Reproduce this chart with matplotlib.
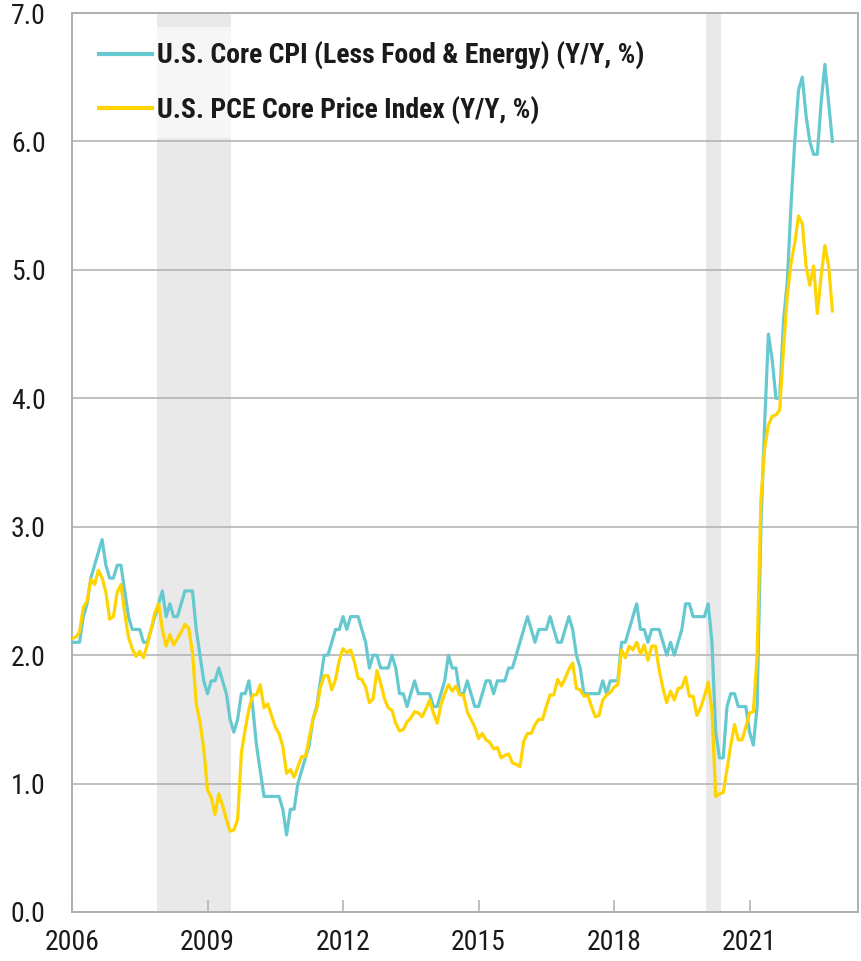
import matplotlib
matplotlib.use("Agg")
import matplotlib.pyplot as plt
import numpy as np

# ---------------- data (monthly, Jan 2006 .. Nov 2022) ----------------
start_year = 2006
cpi_core = [
    2.1, 2.1, 2.1, 2.3, 2.4, 2.6, 2.7, 2.8, 2.9, 2.7, 2.6, 2.6,   # 2006
    2.7, 2.7, 2.5, 2.3, 2.2, 2.2, 2.2, 2.1, 2.1, 2.2, 2.3, 2.4,   # 2007
    2.5, 2.3, 2.4, 2.3, 2.3, 2.4, 2.5, 2.5, 2.5, 2.2, 2.0, 1.8,   # 2008
    1.7, 1.8, 1.8, 1.9, 1.8, 1.7, 1.5, 1.4, 1.5, 1.7, 1.7, 1.8,   # 2009
    1.6, 1.3, 1.1, 0.9, 0.9, 0.9, 0.9, 0.9, 0.8, 0.6, 0.8, 0.8,   # 2010
    1.0, 1.1, 1.2, 1.3, 1.5, 1.6, 1.8, 2.0, 2.0, 2.1, 2.2, 2.2,   # 2011
    2.3, 2.2, 2.3, 2.3, 2.3, 2.2, 2.1, 1.9, 2.0, 2.0, 1.9, 1.9,   # 2012
    1.9, 2.0, 1.9, 1.7, 1.7, 1.6, 1.7, 1.8, 1.7, 1.7, 1.7, 1.7,   # 2013
    1.6, 1.6, 1.7, 1.8, 2.0, 1.9, 1.9, 1.7, 1.7, 1.8, 1.7, 1.6,   # 2014
    1.6, 1.7, 1.8, 1.8, 1.7, 1.8, 1.8, 1.8, 1.9, 1.9, 2.0, 2.1,   # 2015
    2.2, 2.3, 2.2, 2.1, 2.2, 2.2, 2.2, 2.3, 2.2, 2.1, 2.1, 2.2,   # 2016
    2.3, 2.2, 2.0, 1.9, 1.7, 1.7, 1.7, 1.7, 1.7, 1.8, 1.7, 1.8,   # 2017
    1.8, 1.8, 2.1, 2.1, 2.2, 2.3, 2.4, 2.2, 2.2, 2.1, 2.2, 2.2,   # 2018
    2.2, 2.1, 2.0, 2.1, 2.0, 2.1, 2.2, 2.4, 2.4, 2.3, 2.3, 2.3,   # 2019
    2.3, 2.4, 2.1, 1.4, 1.2, 1.2, 1.6, 1.7, 1.7, 1.6, 1.6, 1.6,   # 2020
    1.4, 1.3, 1.6, 3.0, 3.8, 4.5, 4.3, 4.0, 4.0, 4.6, 4.9, 5.5,   # 2021
    6.0, 6.4, 6.5, 6.2, 6.0, 5.9, 5.9, 6.3, 6.6, 6.3, 6.0,        # 2022
]
pce_core = [
    2.13, 2.14, 2.18, 2.37, 2.42, 2.59, 2.55, 2.66, 2.60, 2.49, 2.28, 2.30,  # 2006
    2.49, 2.55, 2.33, 2.14, 2.05, 1.99, 2.03, 1.98, 2.08, 2.20, 2.33, 2.40,  # 2007
    2.20, 2.07, 2.16, 2.08, 2.13, 2.18, 2.24, 2.21, 2.02, 1.62, 1.48, 1.27,  # 2008
    0.95, 0.89, 0.76, 0.92, 0.83, 0.72, 0.63, 0.64, 0.72, 1.24, 1.42, 1.58,  # 2009
    1.69, 1.69, 1.77, 1.59, 1.62, 1.53, 1.44, 1.39, 1.29, 1.08, 1.11, 1.05,  # 2010
    1.13, 1.21, 1.21, 1.35, 1.50, 1.58, 1.75, 1.84, 1.84, 1.73, 1.81, 1.96,  # 2011
    2.05, 2.02, 2.04, 1.95, 1.82, 1.81, 1.75, 1.63, 1.66, 1.88, 1.78, 1.66,  # 2012
    1.59, 1.57, 1.47, 1.41, 1.42, 1.48, 1.51, 1.56, 1.55, 1.52, 1.58, 1.65,  # 2013
    1.55, 1.47, 1.61, 1.70, 1.77, 1.72, 1.76, 1.69, 1.69, 1.56, 1.50, 1.44,  # 2014
    1.35, 1.39, 1.34, 1.32, 1.27, 1.28, 1.20, 1.22, 1.23, 1.16, 1.15, 1.13,  # 2015
    1.33, 1.39, 1.39, 1.46, 1.50, 1.50, 1.60, 1.69, 1.69, 1.81, 1.76, 1.82,  # 2016
    1.89, 1.94, 1.74, 1.73, 1.68, 1.69, 1.60, 1.52, 1.53, 1.65, 1.69, 1.71,  # 2017
    1.75, 1.77, 2.04, 1.98, 2.07, 2.04, 2.10, 2.01, 2.08, 1.96, 2.07, 2.07,  # 2018
    1.88, 1.74, 1.63, 1.72, 1.65, 1.74, 1.75, 1.83, 1.68, 1.68, 1.53, 1.59,  # 2019
    1.68, 1.79, 1.57, 0.90, 0.92, 0.93, 1.11, 1.30, 1.46, 1.34, 1.34, 1.44,  # 2020
    1.55, 1.56, 2.00, 3.20, 3.61, 3.79, 3.86, 3.87, 3.91, 4.38, 4.79, 5.05,  # 2021
    5.21, 5.42, 5.36, 5.03, 4.88, 5.03, 4.66, 4.95, 5.19, 5.03, 4.68,        # 2022
]
recession_start = [2007.875, 2020.04]
recession_end = [2009.53, 2020.37]
labels = ["U.S. Core CPI (Less Food & Energy) (Y/Y, %)",
          "U.S. PCE Core Price Index (Y/Y, %)"]
x_ticks = [2006, 2009, 2012, 2015, 2018, 2021]
y_ticks = [0, 1, 2, 3, 4, 5, 6, 7]

# ---------------- style ----------------
plt.rcParams["font.family"] = ["Roboto Condensed", "Roboto", "DejaVu Sans"]

CPI_COLOR = "#66C9D0"
PCE_COLOR = "#FFD400"
GRID = "#AFAFAF"
TEXT = "#1A1A1A"

dates = start_year + np.arange(len(cpi_core)) / 12.0

fig = plt.figure(figsize=(8.61, 9.61), dpi=100)
ax = fig.add_axes([72 / 861, 1 - 912 / 961, 786 / 861, 899 / 961])

for s, e in zip(recession_start, recession_end):
    ax.axvspan(s, e, color="#E9E9E9", lw=0, zorder=0)

ax.plot(dates, cpi_core, color=CPI_COLOR, lw=2.3, label=labels[0], zorder=3)
ax.plot(dates, pce_core, color=PCE_COLOR, lw=2.3, label=labels[1], zorder=4)

ax.set_xlim(2006, 2023.4)
ax.set_ylim(0, 7)
ax.set_yticks(y_ticks)
ax.set_yticklabels([f"{v:.1f}" for v in y_ticks])
ax.set_xticks(x_ticks)
ax.set_xticklabels([str(v) for v in x_ticks])

ax.yaxis.grid(True, color=GRID, lw=1.1, zorder=1)
ax.set_axisbelow(True)
for sp in ax.spines.values():
    sp.set_color(GRID)
    sp.set_linewidth(1.4)

ax.tick_params(axis="y", length=0, pad=19, labelsize=20, labelcolor=TEXT)
ax.tick_params(axis="x", direction="in", length=9, width=1.1, color=GRID,
               pad=12, labelsize=20, labelcolor=TEXT)

leg = ax.legend(loc="upper left", bbox_to_anchor=(0.0165, 0.984),
                borderaxespad=0, frameon=True, fancybox=False,
                framealpha=0.6, edgecolor="none", facecolor="white",
                handlelength=1.9, handletextpad=0.18, labelspacing=0.95,
                borderpad=0.5, prop={"size": 20, "weight": "bold"})
for line in leg.get_lines():
    line.set_linewidth(3.0)
for t in leg.get_texts():
    t.set_color(TEXT)

fig.savefig("out.png", dpi=100)
